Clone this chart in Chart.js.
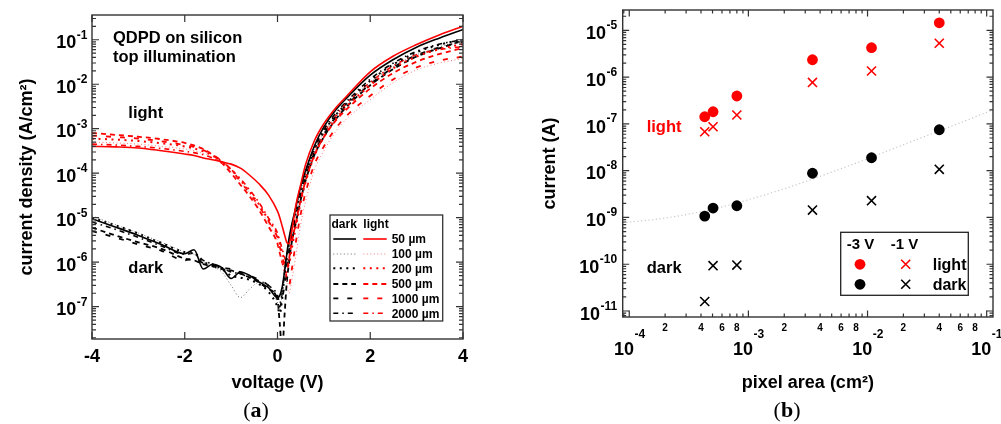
<!DOCTYPE html>
<html><head><meta charset="utf-8">
<script src="https://cdn.jsdelivr.net/npm/chart.js@4.4.1/dist/chart.umd.min.js"></script>
<style>
html,body{margin:0;padding:0;background:#fff;}
body{width:1001px;height:424px;overflow:hidden;position:relative;}
#ca{position:absolute;left:0;top:0;}
#cb{position:absolute;left:500px;top:0;}
.cap{position:absolute;top:397px;width:80px;text-align:center;font-family:"Liberation Serif","Times New Roman",serif;font-size:22px;line-height:26px;color:#000;}
.cap b{font-weight:bold;}
</style>
</head><body>
<canvas id="ca" width="490" height="400"></canvas>
<canvas id="cb" width="501" height="400"></canvas>
<div class="cap" style="left:216px">(<b>a</b>)</div>
<div class="cap" style="left:747px">(<b>b</b>)</div>
<script>
// ---------------- panel (a) data ----------------
const voltage = [-4, -3.5, -3, -2.5, -2, -1.8, -1.6, -1.4, -1.2, -1, -0.8, -0.6, -0.4, -0.2, 0, 0.05, 0.1, 0.15, 0.2, 0.25, 0.3, 0.4, 0.5, 0.6, 0.8, 1, 1.25, 1.5, 2, 2.5, 3, 3.5, 4];
const dark50   = [9.5e-6, 6.2e-6, 4.0e-6, 2.5e-6, 1.55e-6, 1.9e-6, 7.0e-7, 9.0e-7, 7.5e-7, 4.3e-7, 6.0e-7, 5.0e-7, 3.6e-7, 2.7e-7, 1.6e-7, 1.8e-7, 2.7e-7, 6.0e-7, 1.5e-6, 3.5e-6, 6.5e-6, 1.8e-5, 5.0e-5, 1.1e-4, 4.2e-4, 1.1e-3, 2.6e-3, 5.0e-3, 1.6e-2, 3.6e-2, 6.8e-2, 1.1e-1, 1.7e-1];
const dark100  = [1.1e-5, 7.0e-6, 4.5e-6, 2.8e-6, 1.7e-6, 1.5e-6, 1.0e-6, 8.0e-7, 6.0e-7, 3.0e-7, 1.6e-7, 2.5e-7, 3.5e-7, 3.0e-7, 1.2e-7, 8.0e-8, 2.0e-7, 6.0e-7, 1.4e-6, 3.0e-6, 5.5e-6, 1.5e-5, 4.0e-5, 9.0e-5, 3.3e-4, 8.0e-4, 1.9e-3, 3.6e-3, 1.1e-2, 2.5e-2, 4.6e-2, 7.0e-2, 9.0e-2];
const dark200  = [1.0e-5, 6.8e-6, 4.4e-6, 2.7e-6, 1.7e-6, 1.6e-6, 1.0e-6, 9.0e-7, 7.0e-7, 5.0e-7, 4.5e-7, 4.0e-7, 3.2e-7, 2.2e-7, 1.0e-7, 7.0e-8, 1.5e-7, 5.0e-7, 1.2e-6, 2.6e-6, 5.0e-6, 1.4e-5, 4.0e-5, 9.0e-5, 3.5e-4, 8.5e-4, 2.0e-3, 3.8e-3, 1.2e-2, 2.8e-2, 5.2e-2, 7.8e-2, 1.0e-1];
const dark500  = [6.0e-6, 4.0e-6, 2.8e-6, 2.0e-6, 1.2e-6, 1.1e-6, 9.0e-7, 8.0e-7, 7.0e-7, 6.5e-7, 5.5e-7, 4.5e-7, 3.5e-7, 2.5e-7, 1.4e-7, 4.0e-8, 1.0e-8, 6.0e-8, 3.5e-7, 1.0e-6, 2.5e-6, 8.0e-6, 2.5e-5, 6.5e-5, 2.6e-4, 6.5e-4, 1.6e-3, 3.2e-3, 9.5e-3, 2.2e-2, 4.2e-2, 6.5e-2, 9.5e-2];
const dark1000 = [5.0e-6, 3.6e-6, 2.5e-6, 1.8e-6, 1.1e-6, 1.2e-6, 9.5e-7, 8.5e-7, 7.5e-7, 7.0e-7, 6.0e-7, 5.0e-7, 4.0e-7, 3.0e-7, 1.5e-7, 1.0e-7, 1.5e-7, 3.0e-7, 8.0e-7, 1.8e-6, 4.0e-6, 1.2e-5, 3.5e-5, 8.0e-5, 3.0e-4, 7.5e-4, 1.8e-3, 3.5e-3, 1.0e-2, 2.4e-2, 4.5e-2, 6.8e-2, 9.0e-2];
const dark2000 = [8.0e-6, 5.5e-6, 3.6e-6, 2.3e-6, 1.5e-6, 1.6e-6, 1.1e-6, 9.0e-7, 7.5e-7, 6.0e-7, 5.5e-7, 4.5e-7, 3.8e-7, 3.0e-7, 1.8e-7, 1.2e-7, 2.0e-7, 5.5e-7, 1.3e-6, 2.8e-6, 5.5e-6, 1.6e-5, 4.5e-5, 1.0e-4, 3.8e-4, 9.5e-4, 2.2e-3, 4.2e-3, 1.3e-2, 3.0e-2, 5.5e-2, 8.0e-2, 1.0e-1];
const light50   = [4.0e-4, 3.9e-4, 3.7e-4, 3.2e-4, 2.7e-4, 2.5e-4, 2.2e-4, 2.0e-4, 1.8e-4, 1.6e-4, 1.3e-4, 9.0e-5, 5.8e-5, 3.3e-5, 1.4e-5, 1.0e-5, 6.5e-6, 4.2e-6, 2.8e-6, 2.6e-6, 4.5e-6, 2.0e-5, 5.5e-5, 1.5e-4, 5.5e-4, 1.3e-3, 2.9e-3, 5.5e-3, 1.9e-2, 4.3e-2, 7.8e-2, 1.3e-1, 2.0e-1];
const light100  = [5.0e-4, 4.8e-4, 4.5e-4, 4.0e-4, 3.5e-4, 3.2e-4, 2.8e-4, 2.3e-4, 1.7e-4, 1.1e-4, 6.5e-5, 3.5e-5, 1.7e-5, 7.5e-6, 3.0e-6, 1.8e-6, 1.1e-6, 6.0e-7, 3.5e-7, 2.0e-7, 3.5e-7, 1.5e-6, 7.0e-6, 2.2e-5, 1.2e-4, 3.2e-4, 8.5e-4, 1.7e-3, 4.5e-3, 1.1e-2, 2.1e-2, 3.0e-2, 3.8e-2];
const light200  = [6.0e-4, 5.7e-4, 5.3e-4, 4.7e-4, 4.0e-4, 3.6e-4, 3.1e-4, 2.5e-4, 1.8e-4, 1.2e-4, 7.0e-5, 3.8e-5, 2.0e-5, 9.0e-6, 4.0e-6, 2.6e-6, 1.7e-6, 1.1e-6, 8.0e-7, 9.0e-7, 1.8e-6, 6.5e-6, 2.2e-5, 6.0e-5, 2.5e-4, 6.5e-4, 1.6e-3, 3.2e-3, 9.5e-3, 2.3e-2, 4.2e-2, 6.2e-2, 8.0e-2];
const light500  = [8.0e-4, 7.3e-4, 6.6e-4, 5.8e-4, 4.8e-4, 4.2e-4, 3.5e-4, 2.6e-4, 1.7e-4, 1.0e-4, 5.5e-5, 3.0e-5, 1.5e-5, 6.5e-6, 2.6e-6, 1.6e-6, 1.0e-6, 6.5e-7, 6.0e-7, 1.2e-6, 2.5e-6, 8.0e-6, 2.5e-5, 6.5e-5, 2.6e-4, 6.5e-4, 1.5e-3, 2.8e-3, 8.0e-3, 1.8e-2, 3.2e-2, 4.8e-2, 6.5e-2];
const light1000 = [7.0e-4, 6.5e-4, 6.0e-4, 5.2e-4, 4.3e-4, 3.9e-4, 3.3e-4, 2.6e-4, 1.9e-4, 1.2e-4, 6.5e-5, 3.5e-5, 1.8e-5, 8.5e-6, 3.5e-6, 2.2e-6, 1.4e-6, 8.0e-7, 4.5e-7, 3.0e-7, 6.0e-7, 3.0e-6, 1.2e-5, 3.5e-5, 1.6e-4, 4.0e-4, 1.0e-3, 2.0e-3, 5.5e-3, 1.3e-2, 2.4e-2, 3.4e-2, 4.2e-2];
const light2000 = [4.5e-4, 4.3e-4, 4.0e-4, 3.6e-4, 3.1e-4, 2.9e-4, 2.6e-4, 2.2e-4, 1.7e-4, 1.2e-4, 7.5e-5, 4.2e-5, 2.2e-5, 1.0e-5, 4.5e-6, 3.0e-6, 2.0e-6, 1.3e-6, 1.0e-6, 1.3e-6, 2.8e-6, 1.0e-5, 3.2e-5, 8.5e-5, 3.2e-4, 8.0e-4, 1.9e-3, 3.8e-3, 1.1e-2, 2.6e-2, 4.6e-2, 6.0e-2, 7.0e-2];
const sizeLabels = ['50 µm', '100 µm', '200 µm', '500 µm', '1000 µm', '2000 µm'];
const leftXTicks = [-4, -2, 0, 2, 4];
const leftYDecades = [-7, -6, -5, -4, -3, -2, -1];

// ---------------- panel (b) data ----------------
const pixelArea = [4.3e-4, 5.05e-4, 8.0e-4, 3.45e-3, 1.08e-2, 4.0e-2];
const light3V = [1.42e-7, 1.82e-7, 3.95e-7, 2.35e-6, 4.25e-6, 1.45e-5];
const light1V = [6.8e-8, 8.7e-8, 1.55e-7, 7.7e-7, 1.35e-6, 5.3e-6];
const dark3V  = [1.07e-9, 1.59e-9, 1.78e-9, 8.8e-9, 1.89e-8, 7.5e-8];
const dark1V  = [1.6e-11, 9.3e-11, 9.6e-11, 1.44e-9, 2.28e-9, 1.07e-8];
const fitArea    = [8.8e-5, 2e-4, 5e-4, 1e-3, 2e-3, 5e-3, 1e-2, 2e-2, 5e-2, 1.13e-1];
const fitCurrent = [7.7e-10, 9.7e-10, 1.5e-9, 2.4e-9, 4.1e-9, 9.3e-9, 1.8e-8, 3.6e-8, 8.8e-8, 2.0e-7];
const rightXDecades = [-4, -3, -2, -1];
const rightXMinorLabels = [2, 4, 6, 8];
const rightYDecades = [-11, -10, -9, -8, -7, -6, -5];

// ---------------- styles ----------------
const SANS = '"Liberation Sans", Arial, Helvetica, sans-serif';
const RED = '#ff0000', BLACK = '#000000';
const styles = [
  {dash: [], width: 1.6, fade: false},
  {dash: [1, 2.5], width: 1, fade: true},
  {dash: [2, 4.5], width: 2, fade: false},
  {dash: [5, 4], width: 1.8, fade: false},
  {dash: [5, 9], width: 1.8, fade: false},
  {dash: [5, 4, 1.5, 4], width: 1.6, fade: false}
];
function pts(xs, ys) { return xs.map((v, i) => ({x: v, y: ys[i]})); }
const darkSets = [dark50, dark100, dark200, dark500, dark1000, dark2000];
const lightSets = [light50, light100, light200, light500, light1000, light2000];
function lineColor(base, st) { return st.fade ? (base === RED ? '#ff7a7a' : '#6a6a6a') : base; }

const datasetsA = [];
// solid first (drawn on top)
[0, 1, 2, 3, 4, 5].forEach(i => {
  datasetsA.push({label: 'light ' + sizeLabels[i], data: pts(voltage, lightSets[i]), borderColor: lineColor(RED, styles[i]), borderWidth: styles[i].width, borderDash: styles[i].dash, pointRadius: 0, fill: false, cubicInterpolationMode: 'monotone'});
  datasetsA.push({label: 'dark ' + sizeLabels[i], data: pts(voltage, darkSets[i]), borderColor: lineColor(BLACK, styles[i]), borderWidth: styles[i].width, borderDash: styles[i].dash, pointRadius: 0, fill: false, cubicInterpolationMode: 'monotone'});
});

function logTicks(min, max) {
  const out = [];
  for (let d = Math.floor(Math.log10(min)); d <= Math.ceil(Math.log10(max)); d++) {
    for (let m = 1; m <= 9; m++) {
      const v = m * Math.pow(10, d);
      if (v >= min * 0.9999 && v <= max * 1.0001) out.push({v: v, major: m === 1, m: m, d: d});
    }
  }
  return out;
}
function drawTicks(ctx, a, scale, ticks, horizontal, majLen, minLen) {
  ctx.beginPath();
  ticks.forEach(t => {
    const p = scale.getPixelForValue(t.v);
    const L = t.major ? majLen : minLen;
    if (horizontal) { ctx.moveTo(p, a.bottom); ctx.lineTo(p, a.bottom - L); ctx.moveTo(p, a.top); ctx.lineTo(p, a.top + L); }
    else { ctx.moveTo(a.left, p); ctx.lineTo(a.left + L, p); ctx.moveTo(a.right, p); ctx.lineTo(a.right - L, p); }
  });
  ctx.stroke();
}
function powLabel(ctx, exp, x, baseY, expY, align, baseFont, expFont) {
  ctx.font = baseFont; const wb = ctx.measureText('10').width;
  ctx.font = expFont; const es = String(exp); const we = ctx.measureText(es).width;
  const x0 = align === 'right' ? x - wb - we : x - (wb + we) / 2;
  ctx.textAlign = 'left'; ctx.textBaseline = 'alphabetic'; ctx.fillStyle = '#000';
  ctx.font = baseFont; ctx.fillText('10', x0, baseY);
  ctx.font = expFont; ctx.fillText(es, x0 + wb + 0.5, expY);
}
function text(ctx, s, x, y, font, color, align) {
  ctx.font = font; ctx.fillStyle = color || '#000'; ctx.textAlign = align || 'left'; ctx.textBaseline = 'alphabetic';
  ctx.fillText(s, x, y);
}

const frameA = {
  id: 'frameA',
  afterDraw(chart) {
    const {ctx, chartArea: a, scales: {x, y}} = chart;
    ctx.save();
    ctx.strokeStyle = '#333'; ctx.lineWidth = 1.4; ctx.setLineDash([]);
    ctx.strokeRect(a.left, a.top, a.right - a.left, a.bottom - a.top);
    ctx.lineWidth = 1.2;
    drawTicks(ctx, a, x, leftXTicks.map(v => ({v: v, major: true})), true, 7, 4);
    drawTicks(ctx, a, y, logTicks(y.min, y.max), false, 7, 4);
    // tick labels
    leftXTicks.forEach(v => text(ctx, String(v), x.getPixelForValue(v), a.bottom + 23, 'bold 18px ' + SANS, '#000', 'center'));
    leftYDecades.forEach(d => {
      const p = y.getPixelForValue(Math.pow(10, d));
      powLabel(ctx, d, a.left - 5, p + 8.5, p - 1, 'right', 'bold 18px ' + SANS, 'bold 12px ' + SANS);
    });
    // annotations
    text(ctx, 'QDPD on silicon', 113, 43.3, 'bold 16.5px ' + SANS);
    text(ctx, 'top illumination', 113, 62, 'bold 16.5px ' + SANS);
    text(ctx, 'light', 128.3, 118, 'bold 16.5px ' + SANS);
    text(ctx, 'dark', 128.3, 273.2, 'bold 16.5px ' + SANS);
    // legend
    ctx.fillStyle = '#fff'; ctx.fillRect(330, 215, 112.7, 106);
    ctx.strokeStyle = '#333'; ctx.lineWidth = 1.3; ctx.strokeRect(330, 215, 112.7, 106);
    text(ctx, 'dark', 331.5, 228, 'bold 12px ' + SANS);
    text(ctx, 'light', 363.3, 228, 'bold 12px ' + SANS);
    const rows = [239, 254, 268.3, 284, 298.3, 313.3];
    rows.forEach((ry, i) => {
      const st = styles[i];
      ctx.lineWidth = st.width; ctx.setLineDash(st.dash);
      ctx.strokeStyle = lineColor(BLACK, st);
      ctx.beginPath(); ctx.moveTo(333.3, ry); ctx.lineTo(356, ry); ctx.stroke();
      ctx.strokeStyle = lineColor(RED, st);
      ctx.beginPath(); ctx.moveTo(363.3, ry); ctx.lineTo(386.7, ry); ctx.stroke();
      ctx.setLineDash([]);
      text(ctx, sizeLabels[i], 391.7, ry + 4.4, 'bold 12px ' + SANS);
    });
    ctx.restore();
  }
};

const chartA = new Chart(document.getElementById('ca'), {
  type: 'line',
  data: {datasets: datasetsA},
  plugins: [frameA],
  options: {
    responsive: false, animation: false, devicePixelRatio: 1,
    layout: {padding: {left: 0, right: 27, top: 15, bottom: 0}},
    plugins: {legend: {display: false}, tooltip: {enabled: false}},
    scales: {
      x: {type: 'linear', min: -4, max: 4, grid: {display: false}, border: {display: false}, ticks: {display: false},
          title: {display: true, text: 'voltage (V)', color: '#000', font: {family: SANS, size: 18, weight: 'bold'}, padding: {top: 0, bottom: 6}},
          afterFit(s) { s.height = 61; }},
      y: {type: 'logarithmic', min: 1.875e-8, max: 0.36, grid: {display: false}, border: {display: false}, ticks: {display: false},
          title: {display: true, text: 'current density (A/cm²)', color: '#000', font: {family: SANS, size: 18, weight: 'bold'}, padding: {top: 16, bottom: 0}},
          afterFit(s) { s.width = 92; }}
    }
  }
});

// ---------------- panel (b) ----------------
function drawCircle(ctx, x, y, r, c) { ctx.fillStyle = c; ctx.beginPath(); ctx.arc(x, y, r, 0, Math.PI * 2); ctx.fill(); }
function drawX(ctx, x, y, h, c) { ctx.strokeStyle = c; ctx.lineWidth = 1.6; ctx.setLineDash([]); ctx.beginPath(); ctx.moveTo(x - h, y - h); ctx.lineTo(x + h, y + h); ctx.moveTo(x - h, y + h); ctx.lineTo(x + h, y - h); ctx.stroke(); }

const frameB = {
  id: 'frameB',
  afterDraw(chart) {
    const {ctx, chartArea: a, scales: {x, y}} = chart;
    const ox = 500;
    ctx.save();
    ctx.strokeStyle = '#333'; ctx.lineWidth = 1.4; ctx.setLineDash([]);
    ctx.strokeRect(a.left, a.top, a.right - a.left, a.bottom - a.top);
    ctx.lineWidth = 1.2;
    drawTicks(ctx, a, x, logTicks(x.min, x.max), true, 6.5, 3.5);
    drawTicks(ctx, a, y, logTicks(y.min, y.max), false, 6.5, 3.5);
    rightYDecades.forEach(d => {
      const p = y.getPixelForValue(Math.pow(10, d));
      powLabel(ctx, d, a.left - 6, p + 8.8, p - 1.5, 'right', 'bold 18px ' + SANS, 'bold 12px ' + SANS);
    });
    rightXDecades.forEach(d => {
      const p = x.getPixelForValue(Math.pow(10, d));
      powLabel(ctx, d, p, a.bottom + 38.3, a.bottom + 21, 'center', 'bold 18px ' + SANS, 'bold 12px ' + SANS);
      rightXMinorLabels.forEach(m => {
        const v = m * Math.pow(10, d);
        if (v <= x.max) text(ctx, String(m), x.getPixelForValue(v), a.bottom + 13.6, 'bold 10px ' + SANS, '#000', 'center');
      });
    });
    text(ctx, 'light', 646.7 - ox, 131.5, 'bold 16.5px ' + SANS, RED);
    text(ctx, 'dark', 646.7 - ox, 273.3, 'bold 16.5px ' + SANS, '#000');
    // legend
    const bx = 840.7 - ox, by = 232.3, bw = 127.6, bh = 63;
    ctx.fillStyle = '#fff'; ctx.fillRect(bx, by, bw, bh);
    ctx.strokeStyle = '#222'; ctx.lineWidth = 1.3; ctx.strokeRect(bx, by, bw, bh);
    text(ctx, '-3 V', 846.7 - ox, 249.3, 'bold 15px ' + SANS);
    text(ctx, '-1 V', 890.7 - ox, 249.3, 'bold 15px ' + SANS);
    drawCircle(ctx, 860 - ox, 264.3, 5.4, RED);
    drawX(ctx, 905.7 - ox, 264.3, 4.5, RED);
    text(ctx, 'light', 932.7 - ox, 269.5, 'bold 16px ' + SANS);
    drawCircle(ctx, 860 - ox, 284.3, 5.4, BLACK);
    drawX(ctx, 905.7 - ox, 284.3, 4.5, BLACK);
    text(ctx, 'dark', 932.7 - ox, 289.5, 'bold 16px ' + SANS);
    ctx.restore();
  }
};

const chartB = new Chart(document.getElementById('cb'), {
  type: 'scatter',
  data: {datasets: [
    {label: 'light -3 V', data: pts(pixelArea, light3V), pointStyle: 'circle', pointRadius: 5.4, backgroundColor: RED, borderColor: RED, borderWidth: 0, showLine: false},
    {label: 'light -1 V', data: pts(pixelArea, light1V), pointStyle: 'crossRot', pointRadius: 6.4, borderColor: RED, borderWidth: 1.6, showLine: false},
    {label: 'dark -3 V', data: pts(pixelArea, dark3V), pointStyle: 'circle', pointRadius: 5.4, backgroundColor: BLACK, borderColor: BLACK, borderWidth: 0, showLine: false},
    {label: 'dark -1 V', data: pts(pixelArea, dark1V), pointStyle: 'crossRot', pointRadius: 6.4, borderColor: BLACK, borderWidth: 1.6, showLine: false},
    {label: 'fit', data: pts(fitArea, fitCurrent), showLine: true, borderColor: '#c8c8c8', borderWidth: 1.2, borderDash: [1.2, 2.5], pointRadius: 0, cubicInterpolationMode: 'monotone', order: 10}
  ]},
  plugins: [frameB],
  options: {
    responsive: false, animation: false, devicePixelRatio: 1,
    layout: {padding: {left: 0, right: 7, top: 10, bottom: 0}},
    plugins: {legend: {display: false}, tooltip: {enabled: false}},
    scales: {
      x: {type: 'logarithmic', min: 8.81e-5, max: 0.113, grid: {display: false}, border: {display: false}, ticks: {display: false},
          title: {display: true, text: 'pixel area (cm²)', color: '#000', font: {family: SANS, size: 18, weight: 'bold'}, padding: {top: 0, bottom: 6}},
          afterFit(s) { s.height = 83; }},
      y: {type: 'logarithmic', min: 7.45e-12, max: 2.72e-5, grid: {display: false}, border: {display: false}, ticks: {display: false},
          title: {display: true, text: 'current (A)', color: '#000', font: {family: SANS, size: 18, weight: 'bold'}, padding: {top: 39, bottom: 0}},
          afterFit(s) { s.width = 122.7; }}
    }
  }
});
</script>
</body></html>
